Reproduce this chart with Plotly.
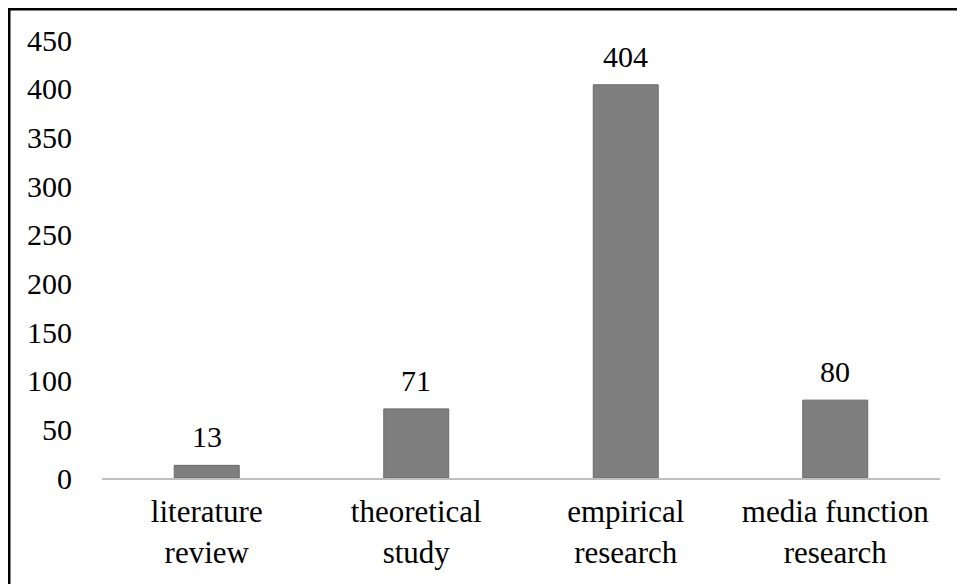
import plotly.graph_objects as go

categories = ["literature<br>review", "theoretical<br>study", "empirical<br>research", "media function<br>research"]
values = [13, 71, 404, 80]
y_ticks = [0, 50, 100, 150, 200, 250, 300, 350, 400, 450]

OFF = 8  # browser body margin
W, H = 965 - OFF, 584 - OFF
L, T = 102 - OFF, 40 - OFF
R = W - (940 - OFF)
B = H - (478 - OFF)
pw, ph = W - L - R, H - T - B

def px_x(x):
    return (x - OFF - L) / pw

def px_y(y):
    return (H - B - (y - OFF)) / ph

font = dict(family="Liberation Serif, Times New Roman, serif", size=30, color="black")
xfont = dict(family="Liberation Serif, Times New Roman, serif", size=31, color="black")

fig = go.Figure(go.Bar(
    x=categories, y=values,
    marker=dict(color="#7f7f7f", line=dict(color="#6a6a6a", width=1)),
))

for c, v in zip(categories, values):
    fig.add_annotation(x=c, y=v, text=str(v), showarrow=False, yanchor="bottom",
                       yshift=10, font=font)

fig.update_layout(
    width=W, height=H,
    margin=dict(l=L, r=R, t=T, b=B),
    paper_bgcolor="white", plot_bgcolor="white",
    font=font, bargap=0.69, showlegend=False,
    xaxis=dict(showline=True, linecolor="#bfbfbf", linewidth=2, showgrid=False,
               ticks="", tickfont=xfont, ticklabelstandoff=5),
    yaxis=dict(range=[0, 450], tickvals=y_ticks, showgrid=False, showline=False,
               zeroline=False, ticks="", tickfont=font, ticklabelstandoff=29),
    shapes=[
        dict(type="line", xref="paper", yref="paper",
             x0=px_x(8), x1=px_x(970), y0=px_y(9), y1=px_y(9),
             line=dict(color="black", width=3)),
        dict(type="line", xref="paper", yref="paper",
             x0=px_x(9), x1=px_x(9), y0=px_y(8), y1=px_y(590),
             line=dict(color="black", width=3)),
    ],
)

fig.write_html("out.html")
